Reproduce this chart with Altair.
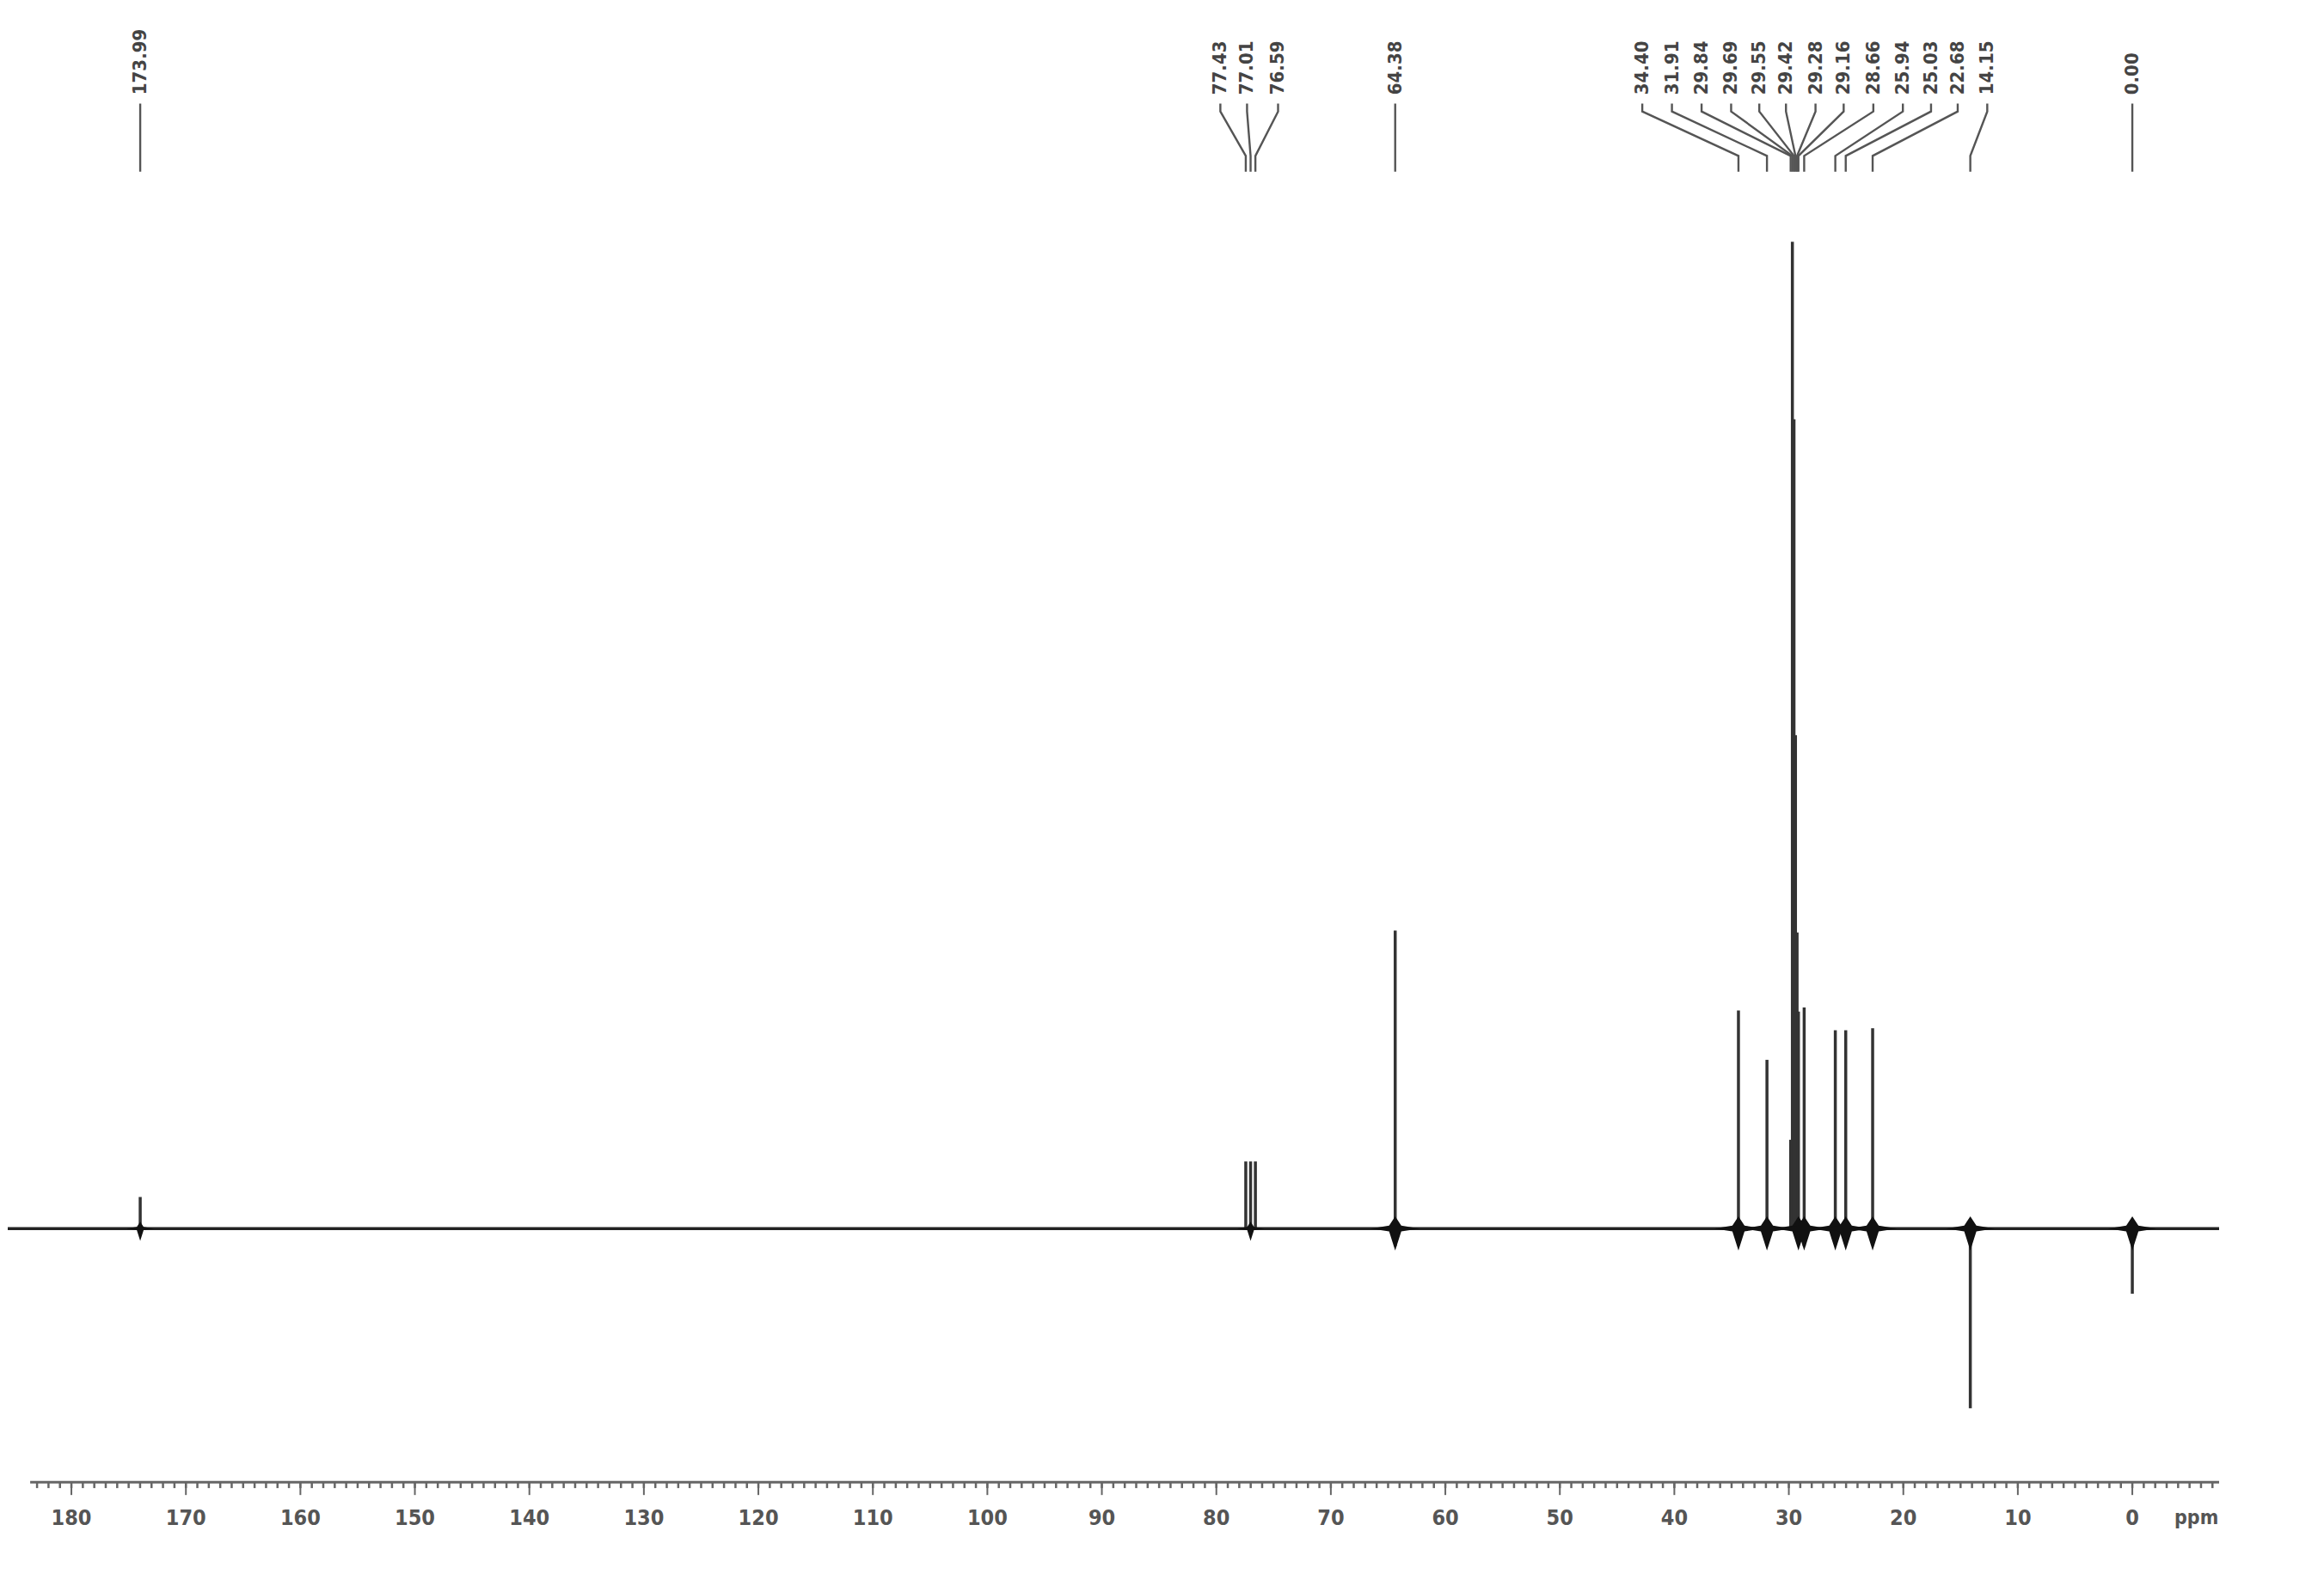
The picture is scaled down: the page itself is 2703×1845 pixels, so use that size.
import altair as alt
import pandas as pd

# ---- data (13C NMR spectrum) ----
peak_ppm = [173.99, 77.43, 77.01, 76.59, 64.38, 34.40, 31.91, 29.84, 29.69,
            29.55, 29.42, 29.28, 29.16, 28.66, 25.94, 25.03, 22.68, 14.15, 0.00]
peak_int = [3.2, 6.8, 6.8, 6.8, 30.2, 22.1, 17.1, 9.0, 100.0,
            82.0, 50.0, 30.0, 22.0, 22.4, 20.1, 20.1, 20.3, -18.2, -6.6]
peak_dip = [0.0, 0.0, 0.0, 0.0, -1.8, -1.3, -0.6, 0.0, 0.0,
            0.0, 0.0, 0.0, -1.6, -1.8, -1.3, -1.3, -1.0, 0.8, 0.6]

label_text = ["173.99", "77.43", "77.01", "76.59", "64.38", "34.40", "31.91",
              "29.84", "29.69", "29.55", "29.42", "29.28", "29.16", "28.66",
              "25.94", "25.03", "22.68", "14.15", "0.00"]
label_pos = [173.99, 79.65, 77.32, 74.61, 64.38, 42.80, 40.21, 37.62, 35.04,
             32.58, 30.25, 27.67, 25.21, 22.62, 20.04, 17.58, 15.25, 12.67, 0.00]

blob_ppm = [64.38, 34.40, 31.91, 29.16, 28.66, 25.94, 25.03, 22.68, 14.15, 0.00]
small_blob_ppm = [173.99, 77.01]

major_ticks = [180, 170, 160, 150, 140, 130, 120, 110, 100, 90, 80, 70, 60, 50, 40, 30, 20, 10, 0]
minor_ticks = list(range(183, -8, -1))
axis_unit = "ppm"

X_DOMAIN = [185.56, -7.58]
Y_DOMAIN = [-32.3, 123.8]
W, H = 2572, 1792
FONT = "DejaVu Sans Condensed, Liberation Sans, sans-serif"

xs = alt.Scale(domain=X_DOMAIN, nice=False, zero=False)
ys = alt.Scale(domain=Y_DOMAIN, nice=False, zero=False)

def X(f="x"):
    return alt.X(f"{f}:Q", scale=xs, axis=None)

def Y(f="y"):
    return alt.Y(f"{f}:Q", scale=ys, axis=None)

# spectrum baseline
df_base = pd.DataFrame({"x": [X_DOMAIN[0]], "x2": [X_DOMAIN[1]], "y": [0.0]})
baseline = alt.Chart(df_base).mark_rule(color="#222", strokeWidth=3.5).encode(
    x=X(), x2="x2:Q", y=Y())

# peaks
df_peaks = pd.DataFrame({"x": peak_ppm, "y": peak_dip, "y2": peak_int})
peaks = alt.Chart(df_peaks).mark_rule(color="#333", strokeWidth=3.5).encode(
    x=X(), y=Y(), y2="y2:Q")

# peak-base blobs
STAR = "M-1,0 L-0.25,-0.12 L0,-0.5 L0.25,-0.12 L1,0 L0.25,0.12 L0,0.9 L-0.25,0.12 Z"
df_blob = pd.DataFrame({"x": blob_ppm, "y": [0.0] * len(blob_ppm)})
blobs = alt.Chart(df_blob).mark_point(
    shape=STAR, filled=True, color="#111", opacity=1, size=3200).encode(x=X(), y=Y())
df_sblob = pd.DataFrame({"x": small_blob_ppm, "y": [0.0] * len(small_blob_ppm)})
sblobs = alt.Chart(df_sblob).mark_point(
    shape=STAR, filled=True, color="#111", opacity=1, size=1000).encode(x=X(), y=Y())

# labels at the top
LBL_Y = 114.9
df_lbl = pd.DataFrame({"x": label_pos, "y": [LBL_Y] * len(label_pos), "t": label_text})
labels = alt.Chart(df_lbl).mark_text(
    angle=270, align="left", baseline="middle", font=FONT, fontWeight="bold",
    fontSize=22, color="#444").encode(x=X(), y=Y(), text="t:N")

# connector lines between labels and peaks
rows = []
for i, (lp, pp) in enumerate(zip(label_pos, peak_ppm)):
    for j, (xx, yy) in enumerate([(lp, 114.0), (lp, 113.2), (pp, 108.7), (pp, 107.1)]):
        rows.append({"id": i, "o": j, "x": xx, "y": yy})
df_conn = pd.DataFrame(rows)
conns = alt.Chart(df_conn).mark_line(color="#555", strokeWidth=2.4).encode(
    x=X(), y=Y(), detail="id:N", order="o:Q")

# bottom axis (drawn with the same scale)
AX_Y = -25.7
df_axis = pd.DataFrame({"x": [183.6], "x2": [X_DOMAIN[1]], "y": [AX_Y]})
axis_line = alt.Chart(df_axis).mark_rule(color="#666", strokeWidth=3).encode(
    x=X(), x2="x2:Q", y=Y())

df_minor = pd.DataFrame({"x": minor_ticks, "y": [AX_Y] * len(minor_ticks),
                         "y2": [AX_Y - 0.6] * len(minor_ticks)})
minor = alt.Chart(df_minor).mark_rule(color="#666", strokeWidth=2.5).encode(
    x=X(), y=Y(), y2="y2:Q")

df_major = pd.DataFrame({"x": major_ticks, "y": [AX_Y] * len(major_ticks),
                         "y2": [AX_Y - 1.3] * len(major_ticks),
                         "ly": [AX_Y - 3.6] * len(major_ticks),
                         "t": [str(v) for v in major_ticks]})
major = alt.Chart(df_major).mark_rule(color="#666", strokeWidth=2).encode(
    x=X(), y=Y(), y2="y2:Q")
tick_labels = alt.Chart(df_major).mark_text(
    font=FONT, fontSize=25, fontWeight="bold", color="#555", baseline="middle",
    align="center").encode(x=X(), y=Y("ly"), text="t:N")

df_unit = pd.DataFrame({"x": [-5.6], "y": [AX_Y - 3.6], "t": [axis_unit]})
unit = alt.Chart(df_unit).mark_text(
    font=FONT, fontSize=23, fontWeight="bold", color="#555", baseline="middle",
    align="center").encode(x=X(), y=Y(), text="t:N")

chart = alt.layer(
    baseline, peaks, blobs, sblobs, conns, labels, axis_line, minor, major, tick_labels, unit
).properties(
    width=W, height=H,
    autosize=alt.AutoSizeParams(type="none"),
    padding={"left": 1, "top": 0, "right": 0, "bottom": 0},
).configure(background="white", view={"stroke": None})

chart.save("out.html", embed_options={"renderer": "svg", "actions": False})
